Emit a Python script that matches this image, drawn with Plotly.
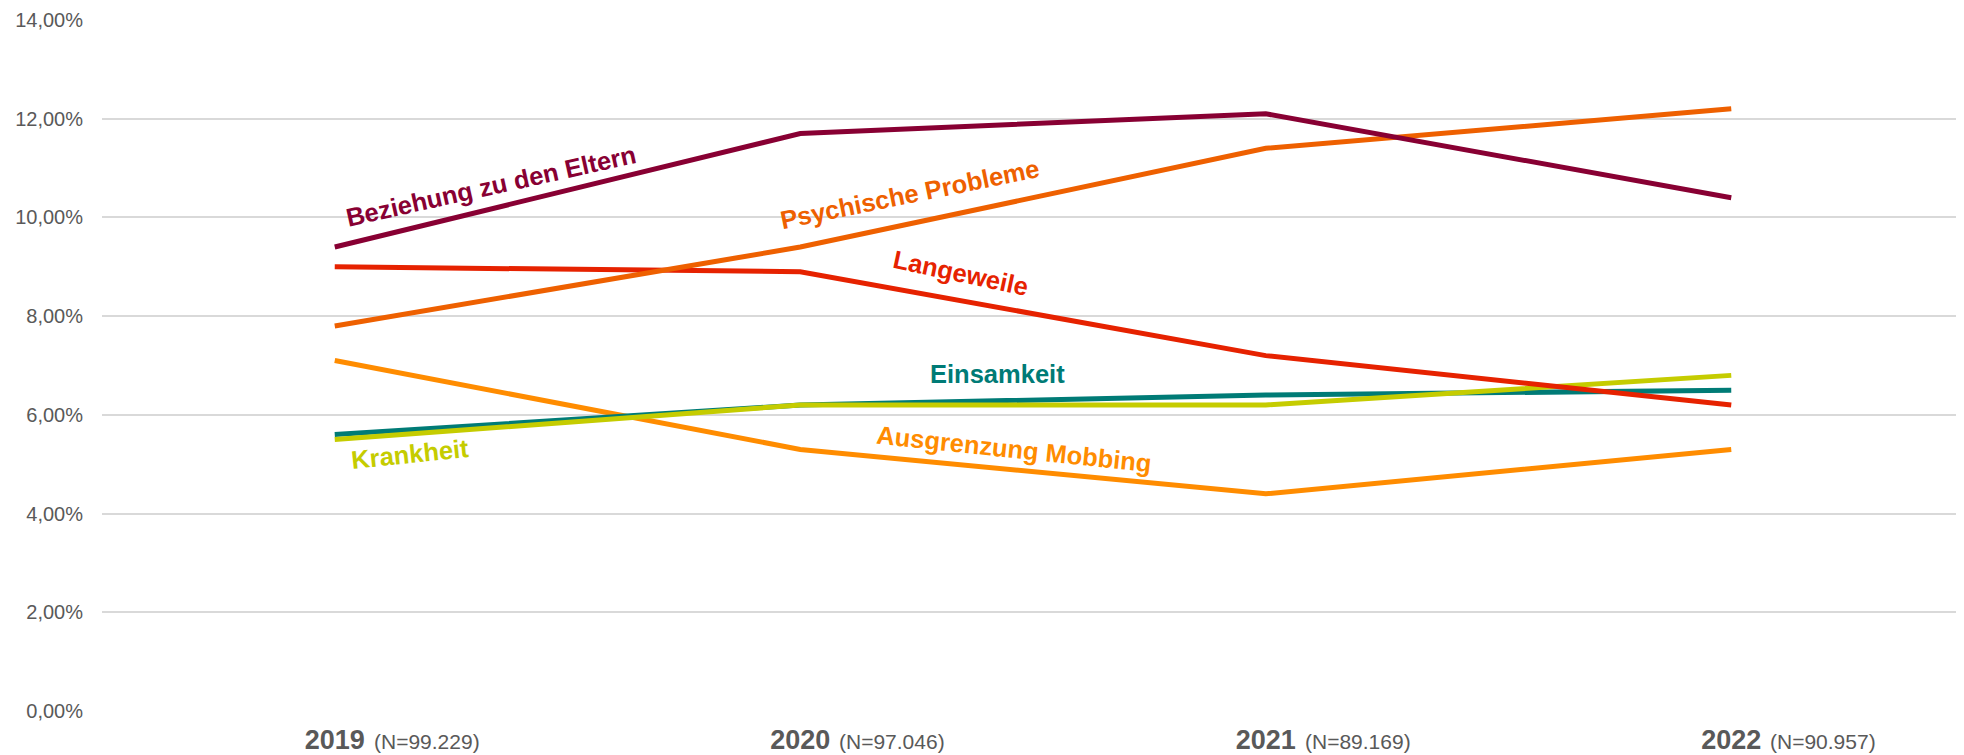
import plotly.graph_objects as go

years = ["2019", "2020", "2021", "2022"]
n_labels = ["(N=99.229)", "(N=97.046)", "(N=89.169)", "(N=90.957)"]

ausgrenzung = [7.1, 5.3, 4.4, 5.3]
einsamkeit = [5.6, 6.2, 6.4, 6.5]
krankheit = [5.5, 6.2, 6.2, 6.8]
langeweile = [9.0, 8.9, 7.2, 6.2]
psychische = [7.8, 9.4, 11.4, 12.2]
beziehung = [9.4, 11.7, 12.1, 10.4]

y_ticks = [0, 2, 4, 6, 8, 10, 12, 14]
y_ticktext = ["0,00%", "2,00%", "4,00%", "6,00%", "8,00%", "10,00%", "12,00%", "14,00%"]

series = [
    ("Ausgrenzung Mobbing", ausgrenzung, "#FF8C00"),
    ("Einsamkeit", einsamkeit, "#007B76"),
    ("Krankheit", krankheit, "#C5CC00"),
    ("Langeweile", langeweile, "#E62200"),
    ("Psychische Probleme", psychische, "#EE6000"),
    ("Beziehung zu den Eltern", beziehung, "#880033"),
]

# label placement: (x index, y value, angle)
label_pos = {
    "Beziehung zu den Eltern": (0.335, 10.63, -12.5),
    "Psychische Probleme": (1.236, 10.47, -11.5),
    "Langeweile": (1.345, 8.87, 12),
    "Einsamkeit": (1.424, 6.82, 0),
    "Krankheit": (0.161, 5.21, -6),
    "Ausgrenzung Mobbing": (1.46, 5.31, 6),
}

fig = go.Figure()
for name, vals, color in series:
    fig.add_trace(go.Scatter(
        x=years, y=vals, mode="lines", name=name,
        line=dict(color=color, width=5),
        showlegend=False,
    ))

font_main = "Liberation Sans, Arial, sans-serif"
annotations = []
for name, vals, color in series:
    lx, ly, ang = label_pos[name]
    annotations.append(dict(
        x=lx, y=ly, xref="x", yref="y", text="<b>" + name + "</b>",
        showarrow=False, textangle=ang,
        font=dict(family=font_main, size=25.5, color=color),
        xanchor="center", yanchor="middle",
    ))

for i, nl in enumerate(n_labels):
    annotations.append(dict(
        x=i, y=0, xref="x", yref="paper", text=nl, showarrow=False,
        xanchor="left", yanchor="middle", xshift=37, yshift=-30,
        font=dict(family=font_main, size=21, color="#595959"),
    ))

# the page body adds an 8px offset; compensate in size and margins
fig.update_layout(
    width=1956, height=747,
    margin=dict(l=94, r=0, t=12, b=37),
    paper_bgcolor="white", plot_bgcolor="white",
    annotations=annotations,
    xaxis=dict(
        type="category", categoryorder="array", categoryarray=years,
        range=[-0.5, 3.5],
        tickvals=years, ticktext=["<b>" + y + "</b>" for y in years],
        tickfont=dict(family=font_main, size=27, color="#595959"),
        showgrid=False, zeroline=False, showline=False,
        ticks="", ticklabelstandoff=10,
    ),
    yaxis=dict(
        range=[0, 14], tickvals=y_ticks, ticktext=y_ticktext,
        tickfont=dict(family=font_main, size=20, color="#595959"),
        showgrid=True, gridcolor="#D9D9D9", gridwidth=1.5,
        zeroline=False, showline=False, ticks="", ticklabelstandoff=18,
    ),
)

fig.write_html("out.html")
